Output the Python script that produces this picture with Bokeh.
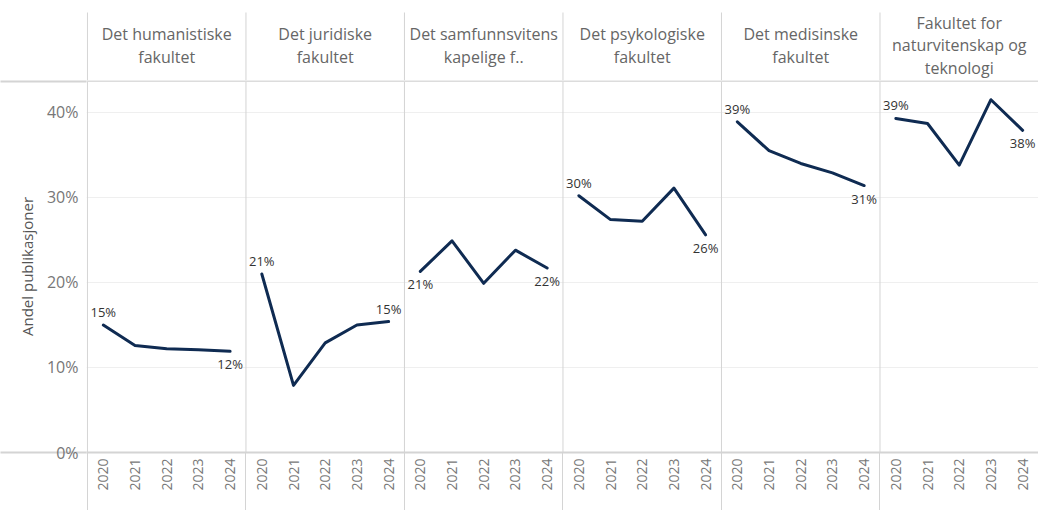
import math
from bokeh.plotting import figure
from bokeh.models import Range1d, FixedTicker, Span, ColumnDataSource
from bokeh.layouts import column
from bokeh.embed import file_html
from bokeh.resources import INLINE
from bokeh.core.properties import value

# ---------------- data ----------------
faculties = [
    "Det humanistiske\nfakultet",
    "Det juridiske\nfakultet",
    "Det samfunnsvitens\nkapelige f..",
    "Det psykologiske\nfakultet",
    "Det medisinske\nfakultet",
    "Fakultet for\nnaturvitenskap og\nteknologi",
]
years = ["2020", "2021", "2022", "2023", "2024"]
hum = [15.0, 12.6, 12.2, 12.1, 11.9]
jur = [21.0, 7.9, 12.9, 15.0, 15.4]
sam = [21.3, 24.9, 19.9, 23.8, 21.7]
psy = [30.2, 27.4, 27.2, 31.1, 25.6]
med = [38.9, 35.5, 34.0, 32.9, 31.4]
nat = [39.3, 38.7, 33.8, 41.5, 37.9]
series = [hum, jur, sam, psy, med, nat]
y_ticks = [0, 10, 20, 30, 40]

# ---------------- style ----------------
first_pos = ["above", "above", "below", "above", "above", "above"]
last_pos = ["below", "above", "below", "below", "below", "below"]
FONT = "Open Sans"
NAVY = "#0f2b52"
GRID = "#d4d4d4"
W = 1038
LEFT = 86
HEAD = 80
FRAME_H = 372
BOTTOM = 58
Y_TOP = 43.76

nY = len(years)
nF = len(faculties)
xr = Range1d(-0.53, nF * nY - 0.5)
bounds = [i * nY - 0.5 for i in range(nF)]

# ---------------- header figure ----------------
h = figure(width=W, height=HEAD, x_range=xr, y_range=Range1d(0, 1),
           output_backend="svg", toolbar_location=None,
           x_axis_location=None, y_axis_location=None,
           min_border_left=LEFT, min_border_right=0, min_border_top=0, min_border_bottom=0)
h.grid.visible = False
h.outline_line_color = None
h.segment(x0=bounds, x1=bounds, y0=[0] * nF, y1=[0.85] * nF, line_color=GRID, line_width=1)
h.text(x=[i * nY + (nY - 1) / 2 for i in range(nF)], y=[0.44] * nF, text=faculties,
       text_align="center", text_baseline="middle", text_font=value(FONT),
       text_font_size="16px", text_color="#666666", text_line_height=1.03)

# ---------------- main figure ----------------
p = figure(width=W, height=FRAME_H + BOTTOM, x_range=xr, y_range=Range1d(0, Y_TOP),
           output_backend="svg", toolbar_location=None,
           min_border_left=LEFT, min_border_right=0, min_border_top=0, min_border_bottom=BOTTOM)
p.outline_line_color = None
p.xgrid.visible = False

p.yaxis.ticker = FixedTicker(ticks=y_ticks, minor_ticks=[0, Y_TOP - 0.06])
p.ygrid.ticker = FixedTicker(ticks=y_ticks[1:])
p.ygrid.grid_line_color = "#efefef"
p.yaxis.major_label_overrides = {t: f"{t}%" for t in y_ticks}
p.yaxis.axis_line_color = None
p.yaxis.major_tick_line_color = None
p.yaxis.major_tick_out = 0
p.yaxis.major_tick_in = 0
p.yaxis.minor_tick_line_color = GRID
p.yaxis.minor_tick_line_width = 2
p.yaxis.minor_tick_out = LEFT
p.yaxis.minor_tick_in = 0
p.yaxis.major_label_standoff = 8 - LEFT
p.yaxis.major_label_text_font = FONT
p.yaxis.major_label_text_font_size = "16px"
p.yaxis.major_label_text_color = "#777777"
p.yaxis.axis_label = "Andel publikasjoner"
p.yaxis.axis_label_text_font = FONT
p.yaxis.axis_label_text_font_size = "15px"
p.yaxis.axis_label_text_font_style = "normal"
p.yaxis.axis_label_text_color = "#555555"
p.yaxis.axis_label_standoff = 7

p.xaxis.ticker = FixedTicker(ticks=list(range(nF * nY)), minor_ticks=bounds)
p.xaxis.major_label_overrides = {i: years[i % nY] for i in range(nF * nY)}
p.xaxis.major_label_orientation = math.pi / 2
p.xaxis.axis_line_color = GRID
p.xaxis.axis_line_width = 2
p.xaxis.major_tick_line_color = None
p.xaxis.major_tick_out = 0
p.xaxis.major_tick_in = 0
p.xaxis.minor_tick_line_color = GRID
p.xaxis.minor_tick_line_width = 1
p.xaxis.minor_tick_out = BOTTOM
p.xaxis.minor_tick_in = 0
p.xaxis.major_label_standoff = 6 - BOTTOM
p.xaxis.major_label_text_font = FONT
p.xaxis.major_label_text_font_size = "14px"
p.xaxis.major_label_text_color = "#777777"

for b in bounds:
    p.add_layout(Span(location=b, dimension="height", line_color=GRID, line_width=1))
p.add_layout(Span(location=Y_TOP - 0.06, dimension="width", line_color="#dcdcdc", line_width=2))

lx, ly, lt, lo = [], [], [], []
for i, s in enumerate(series):
    xs = [i * nY + j for j in range(nY)]
    p.line(x=xs, y=s, line_color=NAVY, line_width=3, line_join="round", line_cap="round")
    for j, pos in ((0, first_pos[i]), (nY - 1, last_pos[i])):
        lx.append(xs[j])
        ly.append(s[j])
        lt.append(f"{round(s[j])}%")
        lo.append(-13 if pos == "above" else 13)

lsrc = ColumnDataSource(dict(x=lx, y=ly, t=lt, o=lo))
p.text(x="x", y="y", text="t", y_offset="o", source=lsrc, text_align="center",
       text_baseline="middle", text_font=value(FONT), text_font_size="13px",
       text_color="#333333")

layout = column(h, p, spacing=0)
open("out.html", "w").write(file_html(layout, INLINE))
